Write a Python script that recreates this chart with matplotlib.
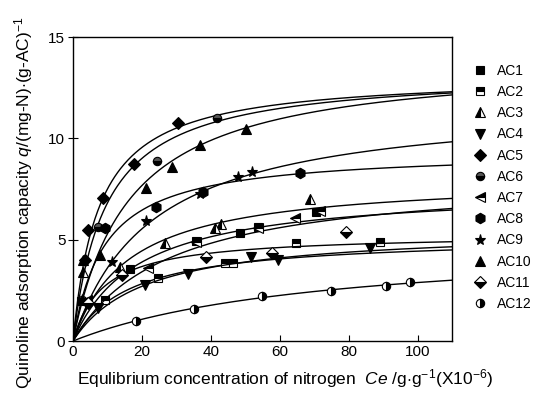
import numpy as np
import matplotlib.pyplot as plt

plt.rcParams['font.family'] = ['Liberation Sans', 'DejaVu Sans']
plt.rcParams['mathtext.fontset'] = 'custom'
plt.rcParams['mathtext.it'] = 'Liberation Sans:italic'
plt.rcParams['mathtext.rm'] = 'Liberation Sans'

labels = ['AC1', 'AC2', 'AC3', 'AC4', 'AC5', 'AC6',
          'AC7', 'AC8', 'AC9', 'AC10', 'AC11', 'AC12']

# measured equilibrium points (Ce, q)
ce = [
    [2.3, 16.5, 35.8, 48.4, 53.7, 70.6],
    [9.3, 24.7, 44.1, 46.5, 64.8, 89.0],
    [3.0, 13.6, 26.7, 41.2, 43.1, 68.7],
    [7.3, 20.9, 33.4, 51.8, 59.4, 86.1],
    [3.6, 4.5, 8.8, 17.7, 30.5],
    [2.6, 7.3, 24.3, 41.9],
    [4.0, 21.8, 35.8, 53.7, 64.3, 71.6],
    [9.3, 24.0, 37.8, 65.8],
    [2.5, 11.2, 21.2, 36.8, 47.9, 52.0],
    [3.0, 7.8, 21.3, 28.6, 37.0, 50.1],
    [4.5, 14.1, 38.7, 57.9, 79.3],
    [18.3, 35.1, 54.9, 75.0, 90.9, 97.7],
]
q = [
    [1.95, 3.53, 4.95, 5.34, 5.64, 6.38],
    [2.0, 3.09, 3.83, 3.87, 4.85, 4.90],
    [3.4, 3.67, 4.82, 5.56, 5.77, 7.0],
    [1.61, 2.76, 3.33, 4.16, 4.0, 4.57],
    [4.0, 5.5, 7.07, 8.72, 10.77],
    [2.0, 5.64, 8.88, 11.02],
    [2.0, 3.59, 4.9, 5.56, 6.05, 6.43],
    [5.6, 6.6, 7.37, 8.27],
    [2.0, 3.91, 5.94, 7.25, 8.07, 8.35],
    [4.0, 4.24, 7.56, 8.57, 9.67, 10.48],
    [1.9, 3.26, 4.16, 4.36, 5.39],
    [1.0, 1.56, 2.24, 2.47, 2.73, 2.89],
]

# Langmuir fit parameters q = qm*K*C/(1+K*C)
qm = [7.57, 5.17, 8.08, 5.54, 13.14, 13.3, 8.21, 9.4, 11.88, 13.95, 5.29, 5.0]
kl = [0.053, 0.0603, 0.0612, 0.0475, 0.133, 0.105, 0.0356, 0.1096,
      0.0436, 0.0611, 0.1139, 0.01364]

# marker, fillstyle, alternate face colour
styles = [
    ('s', 'full', 'white'),
    ('s', 'top', 'white'),
    ('^', 'left', 'white'),
    ('v', 'full', 'white'),
    ('D', 'full', 'white'),
    ('o', 'bottom', '#555555'),
    ('<', 'top', 'white'),
    ('h', 'full', 'white'),
    ('*', 'full', 'white'),
    ('^', 'full', 'white'),
    ('D', 'bottom', 'white'),
    ('o', 'right', 'white'),
]
sizes = [6, 6, 7, 7.5, 6, 6, 7, 7.5, 8, 7.5, 6.5, 6]

fig = plt.figure(figsize=(5.5, 4.01), dpi=100)
ax = fig.add_axes([0.1327, 0.1496, 0.6891, 0.7581])

cc = np.linspace(0, 110, 400)
handles = []
for i in range(len(labels)):
    m, fs, alt = styles[i]
    ax.plot(cc, qm[i] * kl[i] * cc / (1 + kl[i] * cc), color='black', lw=1.0)
    h, = ax.plot(ce[i], q[i], linestyle='none', marker=m, fillstyle=fs,
                 markersize=sizes[i], markerfacecolor='black',
                 markerfacecoloralt=alt, markeredgecolor='black',
                 markeredgewidth=0.8, label=labels[i])
    handles.append(h)

ax.set_xlim(0, 110)
ax.set_ylim(0, 15)
ax.set_xticks([0, 20, 40, 60, 80, 100])
ax.set_yticks([0, 5, 10, 15])
ax.tick_params(axis='x', direction='in', length=4, labelsize=11, pad=3)
ax.tick_params(axis='y', direction='inout', length=7, labelsize=11, pad=2)
for s in ax.spines.values():
    s.set_linewidth(1.0)

ax.set_xlabel(r'Equlibrium concentration of nitrogen  $Ce$ /g$\cdot$g$^{-1}$(X10$^{-6}$)',
              fontsize=12.5)
ax.xaxis.set_label_coords(0.56, -0.085)
ax.set_ylabel(r'Quinoline adsorption capacity $q$/(mg-N)$\cdot$(g-AC)$^{-1}$',
              fontsize=12.5)
ax.yaxis.set_label_coords(-0.1, 0.454)

fig.legend(handles=handles, loc='upper left', bbox_to_anchor=(0.848, 0.855),
           frameon=False, fontsize=10, labelspacing=0.52, handletextpad=0.6,
           handlelength=1.2, borderaxespad=0)

fig.savefig('out.png', dpi=100)
